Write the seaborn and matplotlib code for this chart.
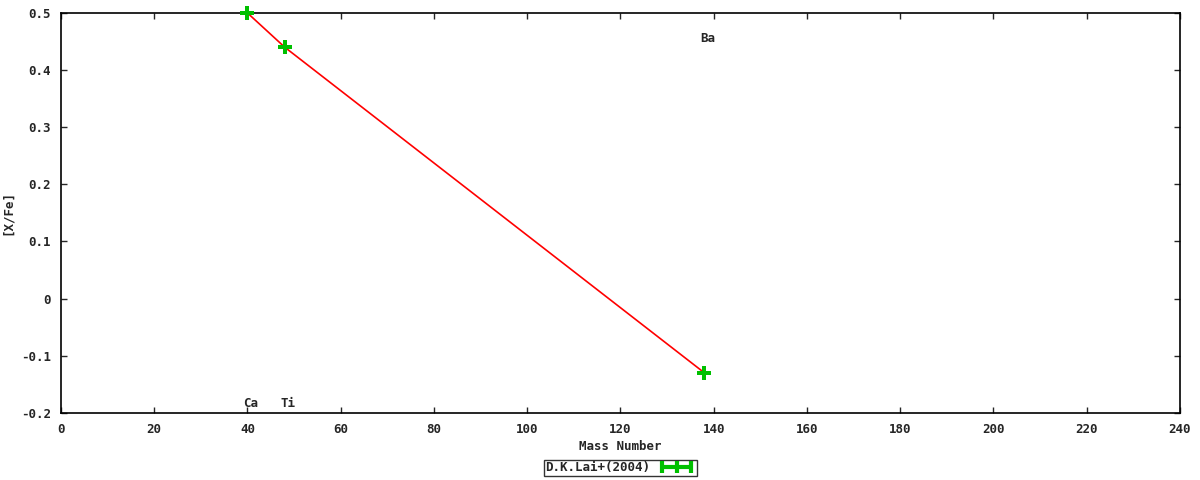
import numpy as np
import pandas as pd
import matplotlib
matplotlib.use("Agg")
import matplotlib.pyplot as plt
import seaborn as sns
from matplotlib.container import ErrorbarContainer
from matplotlib.legend_handler import HandlerErrorbar

elements = ["Ca", "Ti", "Ba"]
mass_number = [40, 48, 138]
x_fe = [0.50, 0.44, -0.13]
label_y = [-0.183, -0.183, 0.456]
series_label = "D.K.Lai+(2004)"
x_ticks = [0, 20, 40, 60, 80, 100, 120, 140, 160, 180, 200, 220, 240]
y_ticks = [-0.2, -0.1, 0, 0.1, 0.2, 0.3, 0.4, 0.5]

sns.set_style("ticks")
plt.rcParams["font.family"] = ["DejaVu Sans Mono"]
plt.rcParams["font.weight"] = "bold"
plt.rcParams["font.size"] = 9

df = pd.DataFrame({"A": mass_number, "XFe": x_fe, "el": elements})

fig = plt.figure(figsize=(12, 4.8), dpi=100)
ax = fig.add_axes([0.0508, 0.140, 0.9325, 0.833])

sns.lineplot(data=df, x="A", y="XFe", ax=ax, color="#ff0000", lw=1.2, legend=False)
sns.scatterplot(data=df, x="A", y="XFe", ax=ax, color="#00c000", marker="P", s=90,
                edgecolor="#00c000", linewidth=0, legend=False, zorder=5, clip_on=False)

for el, a, ly in zip(elements, mass_number, label_y):
    ax.annotate(el, xy=(a, ly), xytext=(-3, 0), textcoords="offset points",
                ha="left", va="center", fontsize=9, fontweight="bold")

h = ax.errorbar([np.nan], [np.nan], xerr=[[1]], fmt="|", color="#00c000",
                markersize=8, mew=3, elinewidth=3, capsize=4, capthick=3)

ax.set_xlim(0, 240)
ax.set_ylim(-0.2, 0.5)
ax.set_xticks(x_ticks)
ax.set_yticks(y_ticks)
ax.set_yticklabels(["-0.2", "-0.1", "0", "0.1", "0.2", "0.3", "0.4", "0.5"])
ax.tick_params(direction="in", top=True, right=True, length=4, width=1, labelsize=9, pad=7)
for s in ax.spines.values():
    s.set_linewidth(1.2)
    s.set_color("black")
ax.set_xlabel("Mass Number", fontsize=9, fontweight="bold", labelpad=3)
ax.set_ylabel("[X/Fe]", fontsize=9, fontweight="bold")
ax.yaxis.set_label_coords(-0.042, 0.5)

leg = fig.legend([h], [series_label], loc="center", bbox_to_anchor=(0.517, 0.025),
                 markerfirst=False, frameon=True, fancybox=False, handlelength=3.0,
                 borderpad=0.15, handletextpad=0.6, fontsize=9, borderaxespad=0,
                 handler_map={ErrorbarContainer: HandlerErrorbar(xerr_size=1.15)})
leg.get_frame().set_edgecolor("black")
leg.get_frame().set_linewidth(1)

fig.savefig("out.png", dpi=100)
